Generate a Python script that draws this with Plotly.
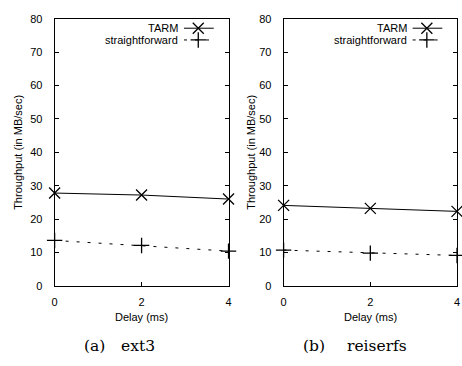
import plotly.graph_objects as go

delays = [0, 2, 4]
ext3_tarm = [27.8, 27.2, 26.0]
ext3_straight = [13.6, 12.1, 10.4]
reiser_tarm = [24.1, 23.2, 22.3]
reiser_straight = [10.7, 9.8, 9.1]
y_ticks = [0, 10, 20, 30, 40, 50, 60, 70, 80]
x_ticks = [0, 2, 4]
x_minor = [0.5, 1, 1.5, 2, 2.5, 3, 3.5]
captions = [("(a)", "ext3"), ("(b)", "reiserfs")]
series_names = ["TARM", "straightforward"]

FONT = "Liberation Sans, Arial, sans-serif"
SERIF = "DejaVu Serif, serif"

fig = go.Figure()

panels = [
    dict(xd=[52.3/462, 228.5/462], tarm=ext3_tarm, sf=ext3_straight),
    dict(xd=[284.3/462, 460/462], tarm=reiser_tarm, sf=reiser_straight),
]
ydom = [(366-289.3)/366, (366-13.3)/366]

layout = dict(width=462, height=366, margin=dict(l=0, r=0, t=0, b=0),
              paper_bgcolor="white", plot_bgcolor="white", showlegend=False,
              font=dict(family=FONT, size=11, color="black"))

XM = dict(symbol="x-thin-open", size=11, color="black",
          line=dict(color="black", width=1.3))
PM = dict(symbol="cross-thin-open", size=11, color="black",
          line=dict(color="black", width=1.3))

for i, p in enumerate(panels):
    n = i + 1
    xa = f"x{'' if n == 1 else n}"
    ya = f"y{'' if n == 1 else n}"
    xo = 2 + n * 2
    xt = xo + 1
    layout[f"xaxis{'' if n == 1 else n}"] = dict(
        domain=p["xd"], anchor=ya, range=[0, 4], tickvals=x_ticks,
        ticks="inside", ticklen=4, tickcolor="black", showline=True,
        linecolor="black", linewidth=1, mirror=True, showgrid=False,
        zeroline=False, ticklabelstandoff=6, tickfont=dict(size=11))
    layout[f"yaxis{'' if n == 1 else n}"] = dict(
        domain=ydom, anchor=xa, range=[0, 80], tickvals=y_ticks,
        ticks="inside", ticklen=4, tickcolor="black", showline=True,
        linecolor="black", linewidth=1, mirror="ticks", showgrid=False,
        zeroline=False, ticklabelstandoff=9, tickfont=dict(size=11))
    layout[f"xaxis{xt}"] = dict(
        overlaying=xa, anchor=ya, side="top", range=[0, 4], tickvals=x_minor,
        ticks="inside", ticklen=4, tickcolor="black", showticklabels=False,
        showline=False, showgrid=False, zeroline=False)
    layout[f"xaxis{xo}"] = dict(overlaying=xa, range=[0, 1], visible=False)
    layout[f"yaxis{xo}"] = dict(overlaying=ya, range=[0, 1], visible=False)

    fig.add_trace(go.Scatter(x=delays, y=p["tarm"], mode="lines+markers",
                             xaxis=xa, yaxis=ya, cliponaxis=False,
                             line=dict(color="black", width=1), marker=XM))
    fig.add_trace(go.Scatter(x=delays, y=p["sf"], mode="lines+markers",
                             xaxis=xa, yaxis=ya, cliponaxis=False,
                             line=dict(color="black", width=1, dash="3px,8px"),
                             marker=PM))
    lx = f"x{xo}"
    ly = f"y{xo}"
    fig.add_trace(go.Scatter(x=[0.744, 0.915], y=[0.965, 0.965], mode="lines",
                             xaxis=lx, yaxis=ly, cliponaxis=False,
                             line=dict(color="black", width=1)))
    fig.add_trace(go.Scatter(x=[0.826], y=[0.965], mode="markers",
                             xaxis=lx, yaxis=ly, cliponaxis=False, marker=XM))
    fig.add_trace(go.Scatter(x=[0.744, 0.915], y=[0.921, 0.921], mode="lines",
                             xaxis=lx, yaxis=ly, cliponaxis=False,
                             line=dict(color="black", width=1, dash="3px,8px")))
    fig.add_trace(go.Scatter(x=[0.826], y=[0.921], mode="markers",
                             xaxis=lx, yaxis=ly, cliponaxis=False, marker=PM))

fig.update_layout(**layout)

ann = []
for i, p in enumerate(panels):
    xref = f"x{'' if i == 0 else i+1} domain"
    yref = f"y{'' if i == 0 else i+1} domain"
    for name, yy in zip(series_names, [0.965, 0.921]):
        ann.append(dict(text=name, x=0.722, y=yy, xref=xref, yref=yref,
                        xanchor="right", yanchor="middle", showarrow=False,
                        font=dict(size=11)))

for cx in [15, 251]:
    ann.append(dict(text="Throughput (in MB/sec)", x=cx/462, y=(366-151)/366,
                    xref="paper", yref="paper", textangle=-90,
                    xanchor="center", yanchor="middle", showarrow=False,
                    font=dict(size=11)))
for cx in [140.4, 372.2]:
    ann.append(dict(text="Delay (ms)", x=cx/462, y=(366-322)/366,
                    xref="paper", yref="paper", xanchor="center",
                    yanchor="middle", showarrow=False, font=dict(size=11)))
for (lbl, fs), (cx1, lx2) in zip(captions, [(93, 118), (315.5, 346.7)]):
    ann.append(dict(text=lbl, x=cx1/462, y=(366-352)/366, xref="paper",
                    yref="paper", xanchor="center", yanchor="middle",
                    showarrow=False, font=dict(family=SERIF, size=15.5)))
    ann.append(dict(text=fs, x=lx2/462, y=(366-352)/366, xref="paper",
                    yref="paper", xanchor="left", yanchor="middle",
                    showarrow=False, font=dict(family=SERIF, size=15.5)))

fig.update_layout(annotations=ann)
fig.write_html("out.html", config={"displayModeBar": False})

# remove the browser's default page margin so the figure sits at the origin
with open("out.html", encoding="utf-8") as f:
    html = f.read()
html = html.replace("<body>", '<body style="margin:0;overflow:hidden">', 1)
with open("out.html", "w", encoding="utf-8") as f:
    f.write(html)
